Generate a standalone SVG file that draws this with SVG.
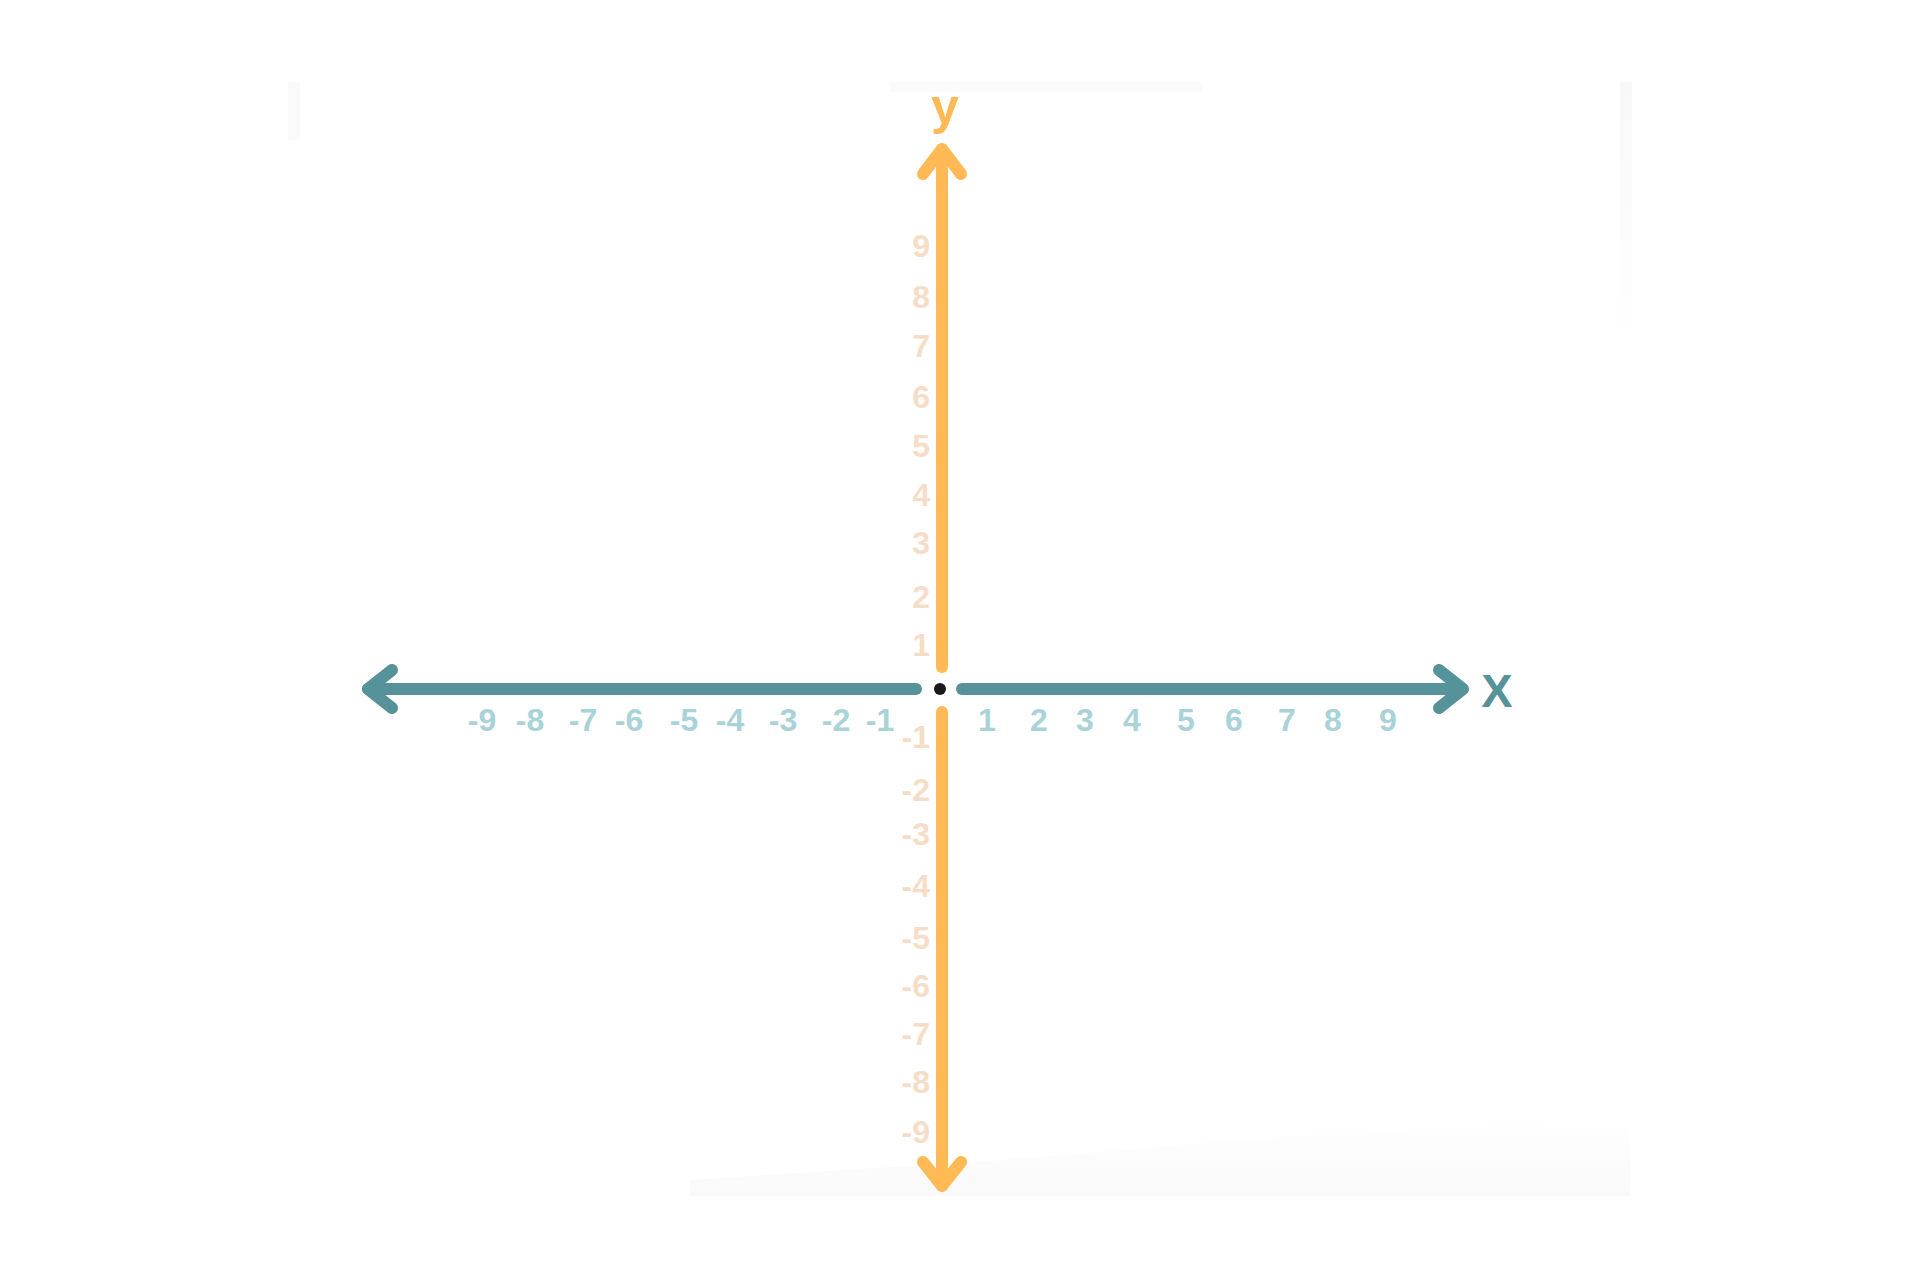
<svg xmlns="http://www.w3.org/2000/svg" width="1920" height="1280" viewBox="0 0 1920 1280">
  <defs>
    <linearGradient id="fadeV" x1="0" y1="0" x2="0" y2="1">
      <stop offset="0" stop-color="#f8f8f8"/>
      <stop offset="1" stop-color="#ffffff"/>
    </linearGradient>
    <linearGradient id="fadeB" x1="0" y1="0" x2="0" y2="1">
      <stop offset="0" stop-color="#ffffff"/>
      <stop offset="1" stop-color="#f9f9f9"/>
    </linearGradient>
  </defs>
  <style>
    .xaxis { stroke: #55929A; stroke-width: 12; stroke-linecap: round; stroke-linejoin: round; fill: none; }
    .yaxis { stroke: #FFB955; stroke-width: 12; stroke-linecap: round; stroke-linejoin: round; fill: none; }
    .xl { font-family: "Liberation Sans", Arial, sans-serif; font-weight: bold; font-size: 32px; fill: #A9D3D8; text-anchor: middle; }
    .yl { font-family: "Liberation Sans", Arial, sans-serif; font-weight: bold; font-size: 32px; fill: #F6DDC8; text-anchor: end; }
  </style>
  <rect x="0" y="0" width="1920" height="1280" fill="#ffffff"/>
  <g id="paper">
    <rect x="288" y="82" width="12" height="58" fill="#fafafa"/>
    <rect x="890" y="82" width="312" height="10" fill="#fbfbfb"/>
    <rect x="1620" y="82" width="12" height="270" fill="url(#fadeV)"/>
    <polygon points="690,1180 1000,1160 1300,1135 1630,1118 1630,1196 690,1196" fill="url(#fadeB)"/>
  </g>
  <g id="connectors">
    <g id="x-axis">
      <line class="xaxis" x1="916" y1="689" x2="368" y2="689"/>
      <polyline class="xaxis" points="392,670 368,689 392,708"/>
      <line class="xaxis" x1="962" y1="689" x2="1462" y2="689"/>
      <polyline class="xaxis" points="1439,670 1463,689 1439,708"/>
    </g>
    <g id="y-axis">
      <line class="yaxis" x1="942" y1="667" x2="942" y2="150"/>
      <polyline class="yaxis" points="923,174 942,149 961,174"/>
      <line class="yaxis" x1="942" y1="712" x2="942" y2="1185"/>
      <polyline class="yaxis" points="923,1162 942,1186 961,1162"/>
    </g>
  </g>
  <g id="origin">
    <circle cx="940" cy="689" r="6" fill="#1a1a1a"/>
  </g>
  <g id="axis-names">
    <text x="945" y="124" font-family="Liberation Sans, Arial, sans-serif" font-weight="bold" font-size="50" fill="#FFB955" text-anchor="middle">y</text>
    <text x="1497" y="707" font-family="Liberation Sans, Arial, sans-serif" font-weight="bold" font-size="47" fill="#55929A" text-anchor="middle">X</text>
  </g>
  <g id="x-labels">
    <text class="xl" x="482" y="731">-9</text>
    <text class="xl" x="530" y="731">-8</text>
    <text class="xl" x="583" y="731">-7</text>
    <text class="xl" x="629" y="731">-6</text>
    <text class="xl" x="684" y="731">-5</text>
    <text class="xl" x="730" y="731">-4</text>
    <text class="xl" x="783" y="731">-3</text>
    <text class="xl" x="836" y="731">-2</text>
    <text class="xl" x="880" y="731">-1</text>
    <text class="xl" x="987" y="731">1</text>
    <text class="xl" x="1039" y="731">2</text>
    <text class="xl" x="1085" y="731">3</text>
    <text class="xl" x="1132" y="731">4</text>
    <text class="xl" x="1186" y="731">5</text>
    <text class="xl" x="1234" y="731">6</text>
    <text class="xl" x="1287" y="731">7</text>
    <text class="xl" x="1333" y="731">8</text>
    <text class="xl" x="1388" y="731">9</text>
  </g>
  <g id="y-labels">
    <text class="yl" x="930" y="257">9</text>
    <text class="yl" x="930" y="308">8</text>
    <text class="yl" x="930" y="357">7</text>
    <text class="yl" x="930" y="408">6</text>
    <text class="yl" x="930" y="457">5</text>
    <text class="yl" x="930" y="506">4</text>
    <text class="yl" x="930" y="554">3</text>
    <text class="yl" x="930" y="608">2</text>
    <text class="yl" x="930" y="656">1</text>
    <text class="yl" x="930" y="748">-1</text>
    <text class="yl" x="930" y="801">-2</text>
    <text class="yl" x="930" y="845">-3</text>
    <text class="yl" x="930" y="897">-4</text>
    <text class="yl" x="930" y="949">-5</text>
    <text class="yl" x="930" y="997">-6</text>
    <text class="yl" x="930" y="1045">-7</text>
    <text class="yl" x="930" y="1093">-8</text>
    <text class="yl" x="930" y="1143">-9</text>
  </g>
</svg>
